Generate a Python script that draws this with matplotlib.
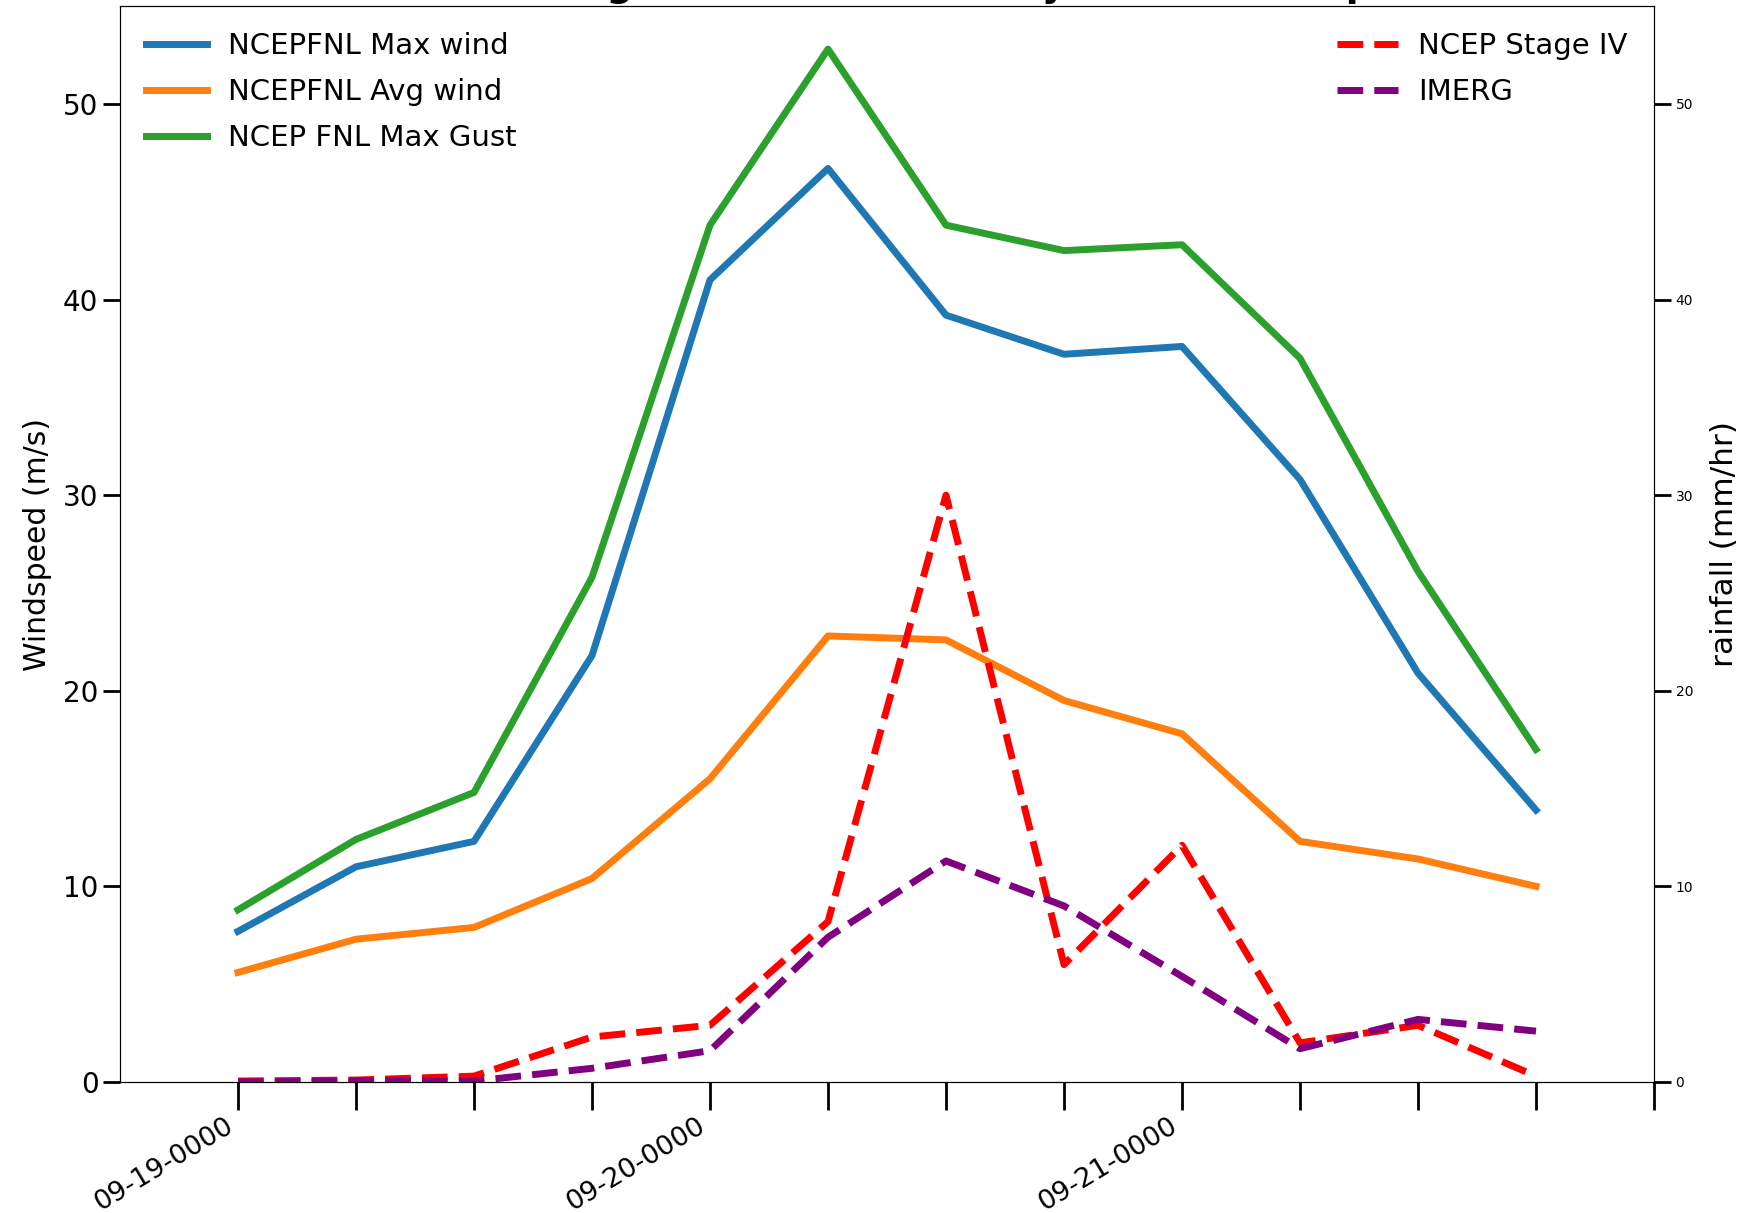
import matplotlib
matplotlib.use("Agg")
import matplotlib.pyplot as plt
import numpy as np

# 6-hourly steps, 09-19 00Z to 09-21 18Z
times = ["09-19-0000", "09-19-0600", "09-19-1200", "09-19-1800",
         "09-20-0000", "09-20-0600", "09-20-1200", "09-20-1800",
         "09-21-0000", "09-21-0600", "09-21-1200", "09-21-1800"]

max_wind = [7.7, 11.0, 12.3, 21.8, 41.0, 46.7, 39.2, 37.2, 37.6, 30.8, 20.9, 13.9]
avg_wind = [5.6, 7.3, 7.9, 10.4, 15.5, 22.8, 22.6, 19.5, 17.8, 12.3, 11.4, 10.0]
max_gust = [8.8, 12.4, 14.8, 25.8, 43.8, 52.8, 43.8, 42.5, 42.8, 37.0, 26.1, 17.0]

stage4 = [0.05, 0.1, 0.3, 2.3, 2.9, 8.2, 30.0, 6.0, 12.1, 2.0, 2.9, 0.3]
imerg = [0.0, 0.05, 0.05, 0.7, 1.6, 7.4, 11.3, 9.0, 5.4, 1.7, 3.2, 2.6]

x = np.arange(len(times))

fig = plt.figure(figsize=(17.44, 12.13), dpi=100)
ax = fig.add_axes([0.0688, 0.108, 0.8796, 0.887])

ax.plot(x, max_wind, color="#1f77b4", lw=5, label="NCEPFNL Max wind")
ax.plot(x, avg_wind, color="#ff7f0e", lw=5, label="NCEPFNL Avg wind")
ax.plot(x, max_gust, color="#2ca02c", lw=5, label="NCEP FNL Max Gust")
ax.set_ylim(0, 55)
ax.set_xlim(-1, 12)
ax.set_ylabel("Windspeed (m/s)", fontsize=21.5, labelpad=8)
ax.tick_params(axis="y", labelsize=20, length=12, width=2)

ticks = np.arange(0, 13)
labels = ["" for t in ticks]
for i in (0, 4, 8):
    labels[i] = times[i]
ax.set_xticks(ticks)
ax.set_xticklabels(labels, rotation=31, ha="right", fontsize=19.5)
ax.tick_params(axis="x", length=20, width=2, pad=2)
ax.legend(loc="upper left", fontsize=21, frameon=False, handlelength=2.1,
          handletextpad=0.7, borderaxespad=0.5, labelspacing=0.62)

ax2 = ax.twinx()
ax2.plot(x, stage4, color="red", lw=5, ls="--", label="NCEP Stage IV")
ax2.plot(x, imerg, color="purple", lw=5, ls="--", label="IMERG")
ax2.set_ylim(0, 55)
ax2.set_ylabel("rainfall (mm/hr)", fontsize=22.5, labelpad=12)
ax2.tick_params(axis="y", labelsize=10, length=12, width=2)
ax2.legend(loc="upper right", fontsize=21, frameon=False, handlelength=2.1,
           handletextpad=0.7, borderaxespad=0.5, labelspacing=0.62)

# title sits mostly above the canvas, only descenders show
fig.text(0.242, 1.0 + 4 / 1213, "Maria Avg Max Wind vs Hourly Rainfall Comparison",
         fontsize=27, fontweight="bold", ha="left", va="baseline")

fig.savefig("out.png", dpi=100)
